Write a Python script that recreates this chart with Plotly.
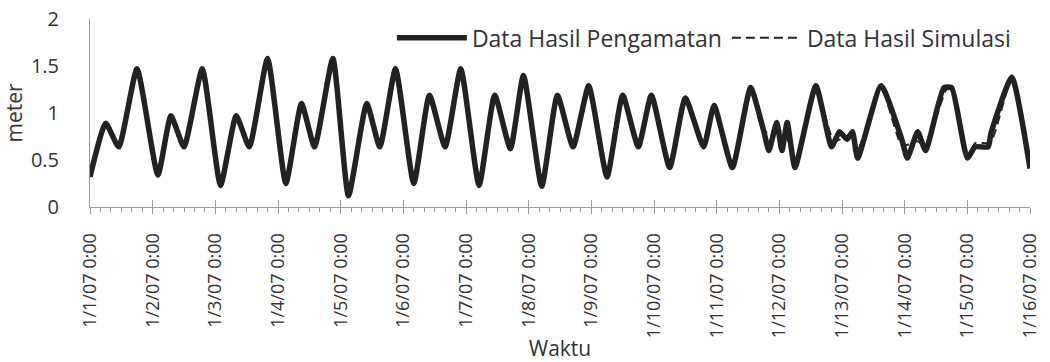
import plotly.graph_objects as go
import pandas as pd

# Observed tide: hours since 2007-01-01 00:00 and water level (m) at turning points
obs_hours = [0, 6, 11, 18, 26, 31, 36, 43, 50, 56, 61, 68, 75, 81, 86, 93, 99, 106, 111, 117,
             124, 130, 136, 142, 149, 155, 161, 166, 173, 179, 185, 191, 198, 204, 210, 215,
             222, 228, 235, 239, 246, 253, 258, 260, 263, 265, 267, 270, 278, 284, 287, 290,
             292, 294, 303, 311, 313, 317, 320, 327, 330, 336, 339, 344, 345, 353, 360]
obs_level = [0.32, 0.89, 0.64, 1.47, 0.34, 0.97, 0.64, 1.47, 0.23, 0.97, 0.64, 1.58, 0.25, 1.10,
             0.64, 1.58, 0.12, 1.10, 0.64, 1.47, 0.25, 1.19, 0.64, 1.47, 0.23, 1.19, 0.62, 1.40,
             0.22, 1.19, 0.64, 1.29, 0.32, 1.19, 0.64, 1.19, 0.42, 1.16, 0.64, 1.08, 0.42, 1.27,
             0.81, 0.60, 0.90, 0.60, 0.90, 0.42, 1.29, 0.64, 0.80, 0.72, 0.80, 0.52, 1.29, 0.71,
             0.52, 0.80, 0.60, 1.27, 1.27, 0.52, 0.64, 0.64, 0.78, 1.38, 0.41]

# Simulated tide
sim_hours = [0, 6, 11, 18, 26, 31, 36, 43, 50, 56, 61, 68, 75, 81, 86, 93, 99, 106, 111, 117,
             124, 130, 136, 142, 149, 155, 161, 166, 173, 179, 185, 191, 198, 204, 210, 215,
             222, 228, 235, 239, 246, 253, 258, 266, 270, 278, 285, 292, 294, 303, 311, 317,
             320, 328, 330, 336, 339, 344, 346, 353, 360]
sim_level = [0.35, 0.87, 0.66, 1.45, 0.36, 0.95, 0.66, 1.45, 0.25, 0.95, 0.66, 1.55, 0.27, 1.08,
             0.66, 1.55, 0.15, 1.08, 0.66, 1.45, 0.27, 1.17, 0.66, 1.45, 0.25, 1.17, 0.64, 1.38,
             0.24, 1.17, 0.66, 1.27, 0.34, 1.17, 0.66, 1.17, 0.44, 1.14, 0.66, 1.06, 0.44, 1.25,
             0.80, 0.80, 0.45, 1.27, 0.70, 0.78, 0.60, 1.27, 0.65, 0.70, 0.65, 1.25, 1.25, 0.55,
             0.68, 0.68, 0.75, 1.36, 0.42]

start = pd.Timestamp("2007-01-01 00:00")
tick_days = list(range(16))
tick_labels = ["1/1/07 0:00", "1/2/07 0:00", "1/3/07 0:00", "1/4/07 0:00", "1/5/07 0:00",
               "1/6/07 0:00", "1/7/07 0:00", "1/8/07 0:00", "1/9/07 0:00", "1/10/07 0:00",
               "1/11/07 0:00", "1/12/07 0:00", "1/13/07 0:00", "1/14/07 0:00", "1/15/07 0:00",
               "1/16/07 0:00"]
y_ticks = [0, 0.5, 1, 1.5, 2]
y_labels = ["0", "0.5", "1", "1.5", "2"]

obs_t = [start + pd.Timedelta(hours=h) for h in obs_hours]
sim_t = [start + pd.Timedelta(hours=h) for h in sim_hours]
tick_t = [start + pd.Timedelta(days=d) for d in tick_days]

FONT = "Open Sans"
TXT = "#333333"
AX = "#9a9a9a"

fig = go.Figure()
fig.add_trace(go.Scatter(x=obs_t, y=obs_level, mode="lines", name="Data Hasil Pengamatan",
                         line=dict(color="#222222", width=5.5, shape="spline", smoothing=0.5)))
fig.add_trace(go.Scatter(x=sim_t, y=sim_level, mode="lines", name="Data Hasil Simulasi",
                         line=dict(color="#222222", width=2, dash="9px,5px",
                                   shape="spline", smoothing=0.5)))
# invisible trace to host the upper half of the crossing major ticks
fig.add_trace(go.Scatter(x=[tick_t[0]], y=[None], xaxis="x2", showlegend=False,
                         hoverinfo="skip"))

fig.update_layout(
    width=1050, height=362,
    margin=dict(l=90, r=20, t=19, b=155),
    paper_bgcolor="white", plot_bgcolor="white",
    font=dict(family=FONT, color=TXT, size=19),
    showlegend=True,
    legend=dict(orientation="h", x=0.985, xanchor="right", y=0.90, yanchor="middle",
                font=dict(family=FONT, size=23, color=TXT), bgcolor="rgba(0,0,0,0)",
                itemwidth=70, tracegroupgap=0),
    xaxis=dict(
        type="date", range=[tick_t[0], tick_t[-1]], automargin=False,
        tickvals=tick_t, ticktext=tick_labels, tickangle=-90,
        tickfont=dict(family=FONT, size=18, color=TXT),
        ticks="outside", ticklen=6, tickcolor=AX, tickwidth=1,
        ticklabelstandoff=12,
        minor=dict(dtick=4 * 3600 * 1000, ticks="outside", ticklen=4, tickcolor=AX),
        showline=True, linecolor=AX, linewidth=1, showgrid=False, zeroline=False,
        title=dict(text="Waktu", font=dict(family=FONT, size=21, color=TXT), standoff=4),
    ),
    xaxis2=dict(
        type="date", overlaying="x", matches="x", anchor="y", side="bottom",
        tickvals=tick_t, ticks="inside", ticklen=7, tickcolor=AX, tickwidth=1,
        showticklabels=False, showline=False, showgrid=False, zeroline=False,
    ),
    yaxis=dict(
        range=[0, 2], tickvals=y_ticks, ticktext=y_labels, automargin=False,
        tickfont=dict(family=FONT, size=20, color=TXT),
        ticks="", ticklabelstandoff=26,
        showline=True, linecolor=AX, linewidth=1, showgrid=False, zeroline=False,
        title=dict(text="meter", font=dict(family=FONT, size=21, color=TXT), standoff=2),
    ),
)

fig.write_html("out.html")
